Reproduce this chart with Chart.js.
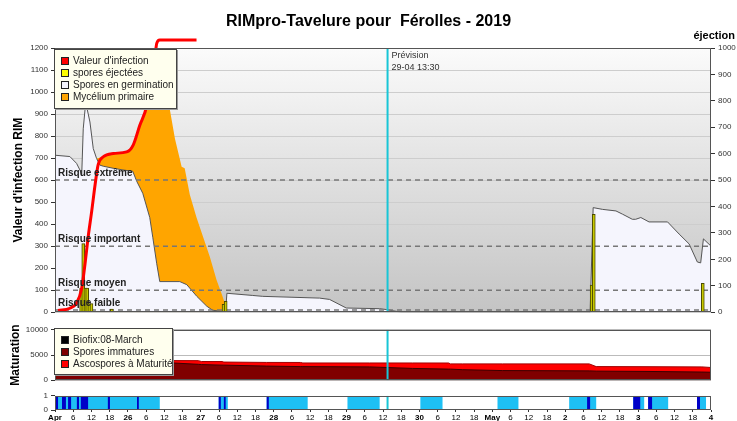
<!DOCTYPE html>
<html>
<head>
<meta charset="utf-8">
<script src="https://cdn.jsdelivr.net/npm/chart.js@4.4.0/dist/chart.umd.min.js"></script>
<style>
  body { margin: 0; background: #fff; font-family: "Liberation Sans", Arial, sans-serif; }
  #wrap { position: relative; width: 737px; height: 421px; overflow: hidden; }
  canvas { position: absolute; left: 0; }
  .txt { position: absolute; white-space: nowrap; color: #000; }
  .legend { position: absolute; background: #ffffee; border: 1px solid #444; box-shadow: 1px 1px 0 #999;
            box-sizing: border-box; padding: 5px 0 0 6px; font-size: 10px; color: #222; }
  .legend div { height: 12px; line-height: 12px; white-space: nowrap; }
  .sw { display: inline-block; width: 6px; height: 6px; border: 1px solid #222; margin-right: 4px; vertical-align: -1px; }
</style>
</head>
<body>
<div id="wrap">
  <canvas id="main" width="737" height="320" style="top:0"></canvas>
  <canvas id="mat" width="737" height="66" style="top:322px"></canvas>
  <canvas id="wet" width="737" height="33" style="top:388px"></canvas>

  <div class="txt" style="left:0;width:737px;text-align:center;top:13px;font:bold 16px/16px 'Liberation Sans',Arial,sans-serif">RIMpro-Tavelure pour&nbsp; Férolles - 2019</div>
  <div class="txt" style="right:2px;top:30px;font:bold 11px/11px 'Liberation Sans',Arial,sans-serif">éjection</div>

  <div class="legend" style="left:54px;top:49px;width:123px;height:60px">
    <div><span class="sw" style="background:#ff0000"></span>Valeur d'infection</div>
    <div><span class="sw" style="background:#ffff00"></span>spores éjectées</div>
    <div><span class="sw" style="background:#f5f5fd"></span>Spores en germination</div>
    <div><span class="sw" style="background:#ffa500"></span>Mycélium primaire</div>
  </div>
  <div class="legend" style="left:54px;top:328px;width:119px;height:47px">
    <div><span class="sw" style="background:#000"></span>Biofix:08-March</div>
    <div><span class="sw" style="background:#800000"></span>Spores immatures</div>
    <div><span class="sw" style="background:#ff0000"></span>Ascospores à Maturité</div>
  </div>
</div>
<script>
// time axis: hours since 25 April 00:00
const dayLabels = ['Apr', '26', '27', '28', '29', '30', 'May', '2', '3', '4'];
const totalHours = (dayLabels.length - 1) * 24;
const previsionHour = 4 * 24 + 13.5;
const previsionLabel = '29-04 13:30';

// Valeur d'infection (RIM)
const rimHours  = [1, 4.9, 7.1, 8.8, 9.9, 10.9, 12.1, 13.2, 14.2, 15.9, 19.2, 23.6, 25.7, 27.9, 30.2, 31.2, 32.9, 33.5, 34.5, 46.6];
const rimValues = [8, 18, 42, 109, 221, 340, 460, 579, 669, 706, 721, 728, 758, 848, 937, 1027, 1161, 1221, 1236, 1236];

// Spores en germination
const germHours  = [0, 4.9, 7.1, 8.2, 8.8, 9.3, 9.9, 10.4, 11.5, 12.6, 13.7, 14.8, 15.9, 19.1, 22.4, 25.6, 26.9, 28.9, 31.2, 32.2,
                    33.5, 34.5, 41.1, 43.4, 46.7, 50, 51.9, 55.2, 56.2, 56.6, 65.1, 68.4, 87.1, 90.4, 95.9, 106.9, 109.1, 112.3, 114.1, 176.2,
                    177.2, 180.3, 184.7, 186.9, 190.1, 191.2, 192.9, 195.6, 201.7, 205.5, 208.8, 211.5, 212.6, 213.5, 216];
const germValues = [713, 707, 676, 646, 624, 833, 922, 935, 864, 743, 698, 668, 663, 654, 646, 640, 595, 540, 430, 340,
                    220, 139, 139, 125, 72, 27, 9, 3, 4, 86, 76, 72, 64, 58, 19, 16, 12, 4, 0, 0,
                    475, 467, 460, 445, 422, 422, 430, 410, 410, 355, 310, 228, 224, 333, 300];

// Mycélium primaire
const mycHours  = [13.7, 15.9, 19.2, 23.6, 25.7, 27.9, 30.2, 31.2, 32.9, 33.5, 35.0, 36.2, 37.8, 39.5, 41.7, 42.7, 44.4, 46.6, 48.8, 51.0, 53.2, 54.8, 55.9, 56.4];
const mycValues = [698, 706, 721, 728, 758, 848, 937, 1027, 1161, 1236, 1236, 1050, 922, 788, 661, 654, 534, 430, 340, 251, 146, 86, 42, 4];

// spores éjectées (right axis)
const ejectHours  = [8.6, 9.3, 10.0, 10.6, 11.3, 12.0, 18.7, 55.5, 56.2, 176.7, 177.4, 213.3];
const ejectValues = [91, 260, 91, 91, 33, 33, 12, 30, 41, 103, 370, 109];

// risk thresholds
const riskLevels = [10, 100, 300, 600];
const riskLabels = ['Risque faible', 'Risque moyen', 'Risque important', 'Risque extrême'];

// Maturation
const matHours        = [0, 8, 12, 38.8, 47.2, 48.2, 55, 55.6, 69.7, 80.8, 81.6, 103.6, 117.7, 129.6, 130.2, 134.1, 147.3, 175.9, 178.2, 194.6, 213, 216];
const sporesImmatures = [1200, 3000, 3450, 3420, 3150, 3100, 2990, 2985, 2800, 2700, 2695, 2640, 2340, 2200, 2195, 2090, 1910, 1850, 1800, 1740, 1620, 1580];
const ascosporesMatures = [0, 300, 450, 470, 730, 605, 710, 612, 725, 820, 722, 777, 1077, 1210, 1042, 1147, 1327, 1387, 897, 940, 1020, 940];

// humectation / pluie periods
const wetStart  = [0, 53.9, 69.7, 96.3, 120.3, 145.7, 169.3, 190.4, 195.3, 211.4];
const wetEnd    = [34.5, 56.9, 83.2, 106.9, 127.6, 152.6, 178.2, 194.0, 201.9, 214.4];
const rainStart = [0.3, 2.3, 4.3, 7.2, 8.5, 17.4, 27.0, 53.9, 55.6, 69.7, 175.2, 190.4, 195.3, 211.4];
const rainEnd   = [1.0, 3.6, 5.3, 7.9, 10.9, 18.1, 27.6, 54.6, 56.2, 70.4, 176.2, 192.7, 196.6, 212.4];

const FONT = '"Liberation Sans", Arial, sans-serif';
const CYAN = '#18c6d6';
const pts = (xs, ys) => xs.map((x, i) => ({ x, y: ys[i] }));
const band = (starts, ends) => starts.flatMap((s, i) => [{ x: s, y: 0 }, { x: s, y: 1 }, { x: ends[i], y: 1 }, { x: ends[i], y: 0 }]);
const tickFont = { size: 8, family: FONT };

const areaStyle = {
  id: 'areaStyle',
  beforeDraw(chart, args, opts) {
    const { ctx, chartArea: a } = chart;
    ctx.save();
    if (opts.gradient) {
      const g = ctx.createLinearGradient(0, a.top, 0, a.bottom);
      g.addColorStop(0, '#fbfbfb');
      g.addColorStop(1, '#c4c4c4');
      ctx.fillStyle = g;
    } else {
      ctx.fillStyle = '#fff';
    }
    ctx.fillRect(a.left, a.top, a.right - a.left, a.bottom - a.top);
    ctx.restore();
  },
  afterDraw(chart) {
    const { ctx, chartArea: a } = chart;
    ctx.save();
    ctx.strokeStyle = '#555';
    ctx.lineWidth = 1;
    ctx.strokeRect(Math.round(a.left) + 0.5, Math.round(a.top) + 0.5, Math.round(a.right - a.left) - 1, Math.round(a.bottom - a.top) - 1);
    ctx.restore();
  }
};

const mainText = {
  id: 'mainText',
  afterDatasetsDraw(chart) {
    const { ctx, scales: { x, y } } = chart;
    ctx.save();
    ctx.font = 'bold 10px ' + FONT;
    ctx.fillStyle = '#222';
    riskLevels.forEach((lv, i) => ctx.fillText(riskLabels[i], x.left + 3, y.getPixelForValue(lv) - 4));
    const px = x.getPixelForValue(previsionHour);
    ctx.font = '9px ' + FONT;
    ctx.fillStyle = '#333';
    ctx.fillText('Prévision', px + 4, y.top + 10);
    ctx.fillText(previsionLabel, px + 4, y.top + 22);
    ctx.restore();
  }
};

const baseOpts = {
  responsive: false,
  animation: false,
  plugins: { legend: { display: false }, tooltip: { enabled: false } },
  elements: { point: { radius: 0 } }
};

// main chart
new Chart(document.getElementById('main'), {
  type: 'line',
  data: {
    datasets: [
      { data: [{ x: previsionHour, y: 0 }, { x: previsionHour, y: 1200 }], borderColor: CYAN, borderWidth: 2, order: 0 },
      { label: "Valeur d'infection", data: pts(rimHours, rimValues), borderColor: '#ff0000', borderWidth: 3,
        cubicInterpolationMode: 'monotone', clip: false, order: 1 },
      { type: 'bar', label: 'spores éjectées', data: pts(ejectHours, ejectValues), yAxisID: 'y2',
        backgroundColor: '#c8c800', borderColor: '#4a4a00', borderWidth: 1, barThickness: 3, order: 2 },
      ...riskLevels.map(lv => ({ data: [{ x: 0, y: lv }, { x: totalHours, y: lv }], borderColor: '#777',
        borderWidth: 1.5, borderDash: [5, 4], order: 3 })),
      { label: 'Spores en germination', data: pts(germHours, germValues), borderColor: '#555', borderWidth: 1,
        backgroundColor: '#f5f5fd', fill: 'origin', order: 4 },
      { label: 'Mycélium primaire', data: pts(mycHours, mycValues), borderColor: 'transparent', borderWidth: 0,
        backgroundColor: '#ffa500', fill: 'origin', clip: false, order: 5 }
    ]
  },
  options: {
    ...baseOpts,
    layout: { padding: { top: 48, bottom: 4, left: 0, right: 0 } },
    plugins: { ...baseOpts.plugins, areaStyle: { gradient: true } },
    scales: {
      x: { type: 'linear', min: 0, max: totalHours, display: false, offset: false },
      y: {
        position: 'left', min: 0, max: 1200,
        ticks: { stepSize: 100, font: tickFont, color: '#333', padding: 3, callback: v => String(v) },
        grid: { color: '#cdcdcd', tickColor: '#333', tickLength: 4 },
        border: { display: false },
        title: { display: true, text: "Valeur d'infection RIM", color: '#000',
                 font: { size: 12, weight: 'bold', family: FONT }, padding: { top: 11, bottom: 0 } },
        afterFit: s => { s.width = 55; }
      },
      y2: {
        position: 'right', min: 0, max: 1000,
        ticks: { stepSize: 100, font: tickFont, color: '#333', padding: 3, callback: v => String(v) },
        grid: { drawOnChartArea: false, tickColor: '#333', tickLength: 4 },
        border: { display: false },
        afterFit: s => { s.width = 26; }
      }
    }
  },
  plugins: [areaStyle, mainText]
});

// maturation chart
const matTotal = sporesImmatures.map((v, i) => v + ascosporesMatures[i]);
new Chart(document.getElementById('mat'), {
  type: 'line',
  data: {
    datasets: [
      { data: [{ x: previsionHour, y: 0 }, { x: previsionHour, y: 10000 }], borderColor: CYAN, borderWidth: 2, order: 0 },
      { label: 'Spores immatures', data: pts(matHours, sporesImmatures), borderColor: '#3a0000', borderWidth: 1,
        backgroundColor: '#800000', fill: 'origin', order: 1 },
      { label: 'Ascospores à Maturité', data: pts(matHours, matTotal), borderColor: '#a00000', borderWidth: 1,
        backgroundColor: '#ff0000', fill: 'origin', order: 2 }
    ]
  },
  options: {
    ...baseOpts,
    layout: { padding: { top: 6, bottom: 5, left: 0, right: 26 } },
    scales: {
      x: { type: 'linear', min: 0, max: totalHours, display: false, offset: false },
      y: {
        min: 0, max: 10000,
        ticks: { stepSize: 5000, font: tickFont, color: '#333', padding: 3, callback: v => String(v) },
        grid: { color: '#bbb', tickColor: '#333', tickLength: 4 },
        border: { display: false },
        title: { display: true, text: 'Maturation', color: '#000',
                 font: { size: 12, weight: 'bold', family: FONT }, padding: { top: 8, bottom: 0 } },
        afterFit: s => { s.width = 55; }
      }
    }
  },
  plugins: [areaStyle]
});

// wetness chart
new Chart(document.getElementById('wet'), {
  type: 'line',
  data: {
    datasets: [
      { data: [{ x: previsionHour, y: 0 }, { x: previsionHour, y: 1 }], borderColor: CYAN, borderWidth: 2, order: 0 },
      { label: 'pluie', data: band(rainStart, rainEnd), borderColor: 'transparent', borderWidth: 0,
        backgroundColor: '#0000c8', fill: 'origin', order: 1 },
      { label: 'humectation', data: band(wetStart, wetEnd), borderColor: 'transparent', borderWidth: 0,
        backgroundColor: '#1ec0f4', fill: 'origin', order: 2 }
    ]
  },
  options: {
    ...baseOpts,
    layout: { padding: { top: 5, bottom: 0, left: 0, right: 26 } },
    scales: {
      x: {
        type: 'linear', min: 0, max: totalHours, offset: false,
        ticks: {
          stepSize: 6, autoSkip: false, maxRotation: 0, padding: 1, color: '#000',
          font: ctx => ({ size: 8, family: FONT, weight: ctx.tick && ctx.tick.value % 24 === 0 ? 'bold' : 'normal' }),
          callback: v => v % 24 === 0 ? dayLabels[v / 24] : String(v % 24)
        },
        grid: { drawOnChartArea: false, tickColor: '#333', tickLength: 2 },
        border: { display: false },
        afterFit: s => { s.height = 11; }
      },
      y: {
        min: 0, max: 1,
        ticks: { stepSize: 1, font: tickFont, color: '#333', padding: 3, callback: v => String(v) },
        grid: { drawOnChartArea: false, tickColor: '#333', tickLength: 4 },
        border: { display: false },
        afterFit: s => { s.width = 55; }
      }
    }
  },
  plugins: [areaStyle]
});
</script>
</body>
</html>
